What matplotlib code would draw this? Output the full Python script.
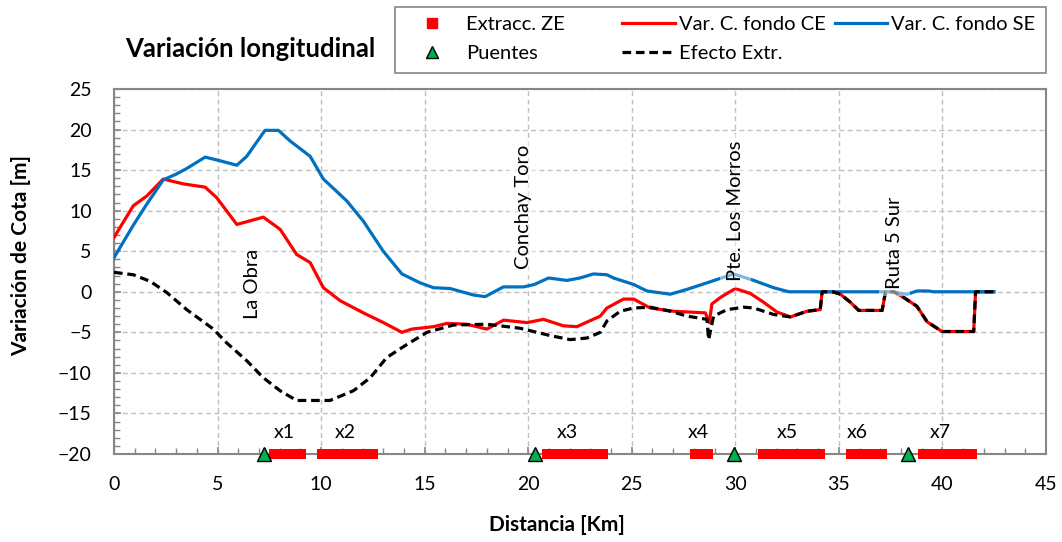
import matplotlib
matplotlib.use("Agg")
import matplotlib.pyplot as plt
from matplotlib.lines import Line2D
from matplotlib.patches import Rectangle
from matplotlib.ticker import MultipleLocator

plt.rcParams['font.family'] = ['Lato', 'DejaVu Sans']

# ---------------- data ----------------
se_x = [0, 0.93, 1.58, 2.38, 3.0, 3.51, 4.40, 5.05, 5.93, 6.41, 7.29, 7.94, 8.5, 9.47,
        10.11, 11.24, 12.04, 13.0, 13.9, 14.78, 15.43, 16.23, 17.36, 17.92, 18.8, 19.77,
        20.3, 20.98, 21.87, 22.5, 23.15, 23.8, 24.12, 25.09, 25.73, 26.86, 27.67, 28.63,
        29.92, 30.89, 31.85, 32.58, 37.6, 38.0, 38.3, 38.77, 39.3, 39.6, 42.48]
se_y = [4.2, 8.2, 10.8, 13.8, 14.5, 15.2, 16.6, 16.2, 15.6, 16.7, 19.9, 19.9, 18.6, 16.7,
        13.9, 11.2, 8.7, 5.0, 2.2, 1.1, 0.5, 0.4, -0.4, -0.6, 0.6, 0.6,
        0.9, 1.7, 1.4, 1.7, 2.2, 2.1, 1.7, 0.9, 0.1, -0.3, 0.3, 1.1,
        2.2, 1.4, 0.5, 0.0, 0.0, -0.2, -0.3, 0.1, 0.1, 0.0, 0.0]

ce_x = [0, 0.93, 1.58, 2.38, 3.35, 4.40, 4.96, 5.93, 7.21, 8.02, 8.82, 9.47, 10.11, 10.92,
        12.04, 13.01, 13.9, 14.38, 15.43, 16.07, 17.04, 18.0, 18.81, 19.94, 20.74, 21.7,
        22.35, 23.48, 23.8, 24.6, 25.09, 25.89, 27.02, 28.55, 28.74, 28.87, 29.28, 30.0,
        30.72, 31.37, 32.01, 32.66, 33.46, 34.1, 34.19, 34.7, 35.07, 35.56, 35.96, 37.09,
        37.25, 37.65, 38.13, 38.77, 39.26, 39.98, 41.51, 41.6, 42.48]
ce_y = [6.7, 10.6, 11.8, 13.9, 13.3, 12.9, 11.6, 8.3, 9.2, 7.7, 4.6, 3.6, 0.5, -1.1,
        -2.6, -3.8, -5.0, -4.6, -4.3, -3.9, -4.0, -4.6, -3.5, -3.8, -3.4, -4.2,
        -4.3, -3.0, -2.0, -0.9, -0.9, -2.0, -2.4, -2.6, -3.8, -1.5, -0.7, 0.4,
        -0.2, -1.3, -2.5, -3.1, -2.4, -2.2, 0.0, 0.0, -0.3, -1.3, -2.3, -2.3,
        0.0, 0.0, -0.7, -1.8, -3.7, -4.9, -4.9, 0.0, 0.0]

ef_x = [0, 0.93, 1.74, 2.55, 3.51, 4.8, 5.44, 6.41, 7.21, 8.02, 8.82, 10.43, 11.56, 12.37,
        13.17, 14.14, 15.11, 16.39, 18.0, 19.61, 21.06, 22.03, 22.84, 23.48, 23.8, 24.44,
        25.09, 25.89, 26.86, 27.67, 28.63, 28.71, 28.95, 29.6, 30.4, 30.89, 31.85, 32.66,
        33.46, 34.1, 34.19, 34.7, 35.07, 35.56, 35.96, 37.09, 37.25, 37.65, 38.13, 38.77,
        39.26, 39.98, 41.51, 41.6, 42.48]
ef_y = [2.4, 2.1, 1.3, -0.1, -2.2, -4.6, -6.3, -8.5, -10.6, -12.2, -13.4, -13.4, -12.2, -10.6,
        -8.1, -6.5, -5.0, -4.1, -4.0, -4.5, -5.4, -5.9, -5.7, -5.0, -3.6, -2.4,
        -2.0, -1.9, -2.4, -3.0, -3.4, -5.9, -3.0, -2.2, -1.9, -2.0, -2.8, -3.1,
        -2.4, -2.2, 0.0, 0.0, -0.3, -1.3, -2.3, -2.3, 0.0, 0.0, -0.7, -1.8,
        -3.7, -4.9, -4.9, 0.0, 0.0]

zone_names = ['x1', 'x2', 'x3', 'x4', 'x5', 'x6', 'x7']
zone_start = [7.5, 9.79, 20.67, 27.83, 31.1, 35.35, 38.8]
zone_end = [9.27, 12.77, 23.83, 28.92, 34.32, 37.34, 41.67]
zone_label_x = [8.24, 11.17, 21.9, 28.2, 32.5, 35.9, 39.9]
zone_y = -20
zone_label_y = -17.4

bridge_x = [7.25, 20.34, 29.95, 38.36]
bridge_y = [-20, -20, -20, -20]

place_names = ['La Obra', 'Conchay Toro', 'Pte. Los Morros', 'Ruta 5 Sur']
place_x = [6.7, 19.76, 30.0, 37.7]
place_y = [-3.4, 2.8, 1.3, 0.4]

x_ticks = [0, 5, 10, 15, 20, 25, 30, 35, 40, 45]
y_ticks = [-20, -15, -10, -5, 0, 5, 10, 15, 20, 25]

# ---------------- figure ----------------
W, H = 1062, 542
fig = plt.figure(figsize=(W / 100, H / 100), dpi=100)
ax = fig.add_axes([114 / W, 1 - 454 / H, (1046 - 114) / W, (454 - 89) / H])

RED = '#FF0000'
BLUE = '#0070C0'
GREEN = '#00B050'
GRAY = '#868686'

ax.plot(ce_x, ce_y, color=RED, lw=2.3, zorder=3)
ax.plot(se_x, se_y, color=BLUE, lw=2.3, zorder=3)
ax.plot(ef_x, ef_y, color='black', lw=2.3, dashes=(2.7, 1.5), zorder=4)

for s, e in zip(zone_start, zone_end):
    ax.plot([s, e], [zone_y, zone_y], color=RED, lw=7.2, solid_capstyle='butt',
            clip_on=False, zorder=5)
for name, lx in zip(zone_names, zone_label_x):
    ax.text(lx, zone_label_y, name, ha='center', va='center', fontsize=14, zorder=6)

ax.plot(bridge_x, bridge_y, ls='none', marker='^', ms=10, mfc=GREEN, mec='black',
        mew=1.0, clip_on=False, zorder=7)

for name, px, py in zip(place_names, place_x, place_y):
    ax.text(px, py, name, rotation=90, ha='center', va='bottom', fontsize=14.5,
            zorder=5,
            bbox=dict(boxstyle='square,pad=0.35', fc='white', ec='none', alpha=0.5))

ax.set_xlim(0, 45)
ax.set_ylim(-20, 25)
ax.set_xticks(x_ticks)
ax.set_yticks(y_ticks)
ax.xaxis.set_minor_locator(MultipleLocator(1))
ax.yaxis.set_minor_locator(MultipleLocator(1))
ax.tick_params(which='both', direction='in', colors=GRAY, labelcolor='black',
               labelsize=14)
ax.tick_params(which='major', length=5, width=1.2, pad=16)
ax.tick_params(which='minor', length=4, width=1.0)
ax.grid(True, which='major', color='#BFBFBF', ls=(0, (3.5, 2.5)), lw=1.0)
ax.set_axisbelow(True)
for sp in ax.spines.values():
    sp.set_color(GRAY)
    sp.set_linewidth(1.5)

fig.text(21 / W, 1 - 255 / H, 'Variación de Cota [m]', rotation=90, ha='center',
         va='center', fontsize=15, fontweight='bold')
fig.text(557 / W, 1 - 525 / H, 'Distancia [Km]', ha='center', va='center',
         fontsize=15, fontweight='bold')
fig.text(250 / W, 1 - 49 / H, 'Variación longitudinal', ha='center', va='center',
         fontsize=18.5, fontweight='bold')

# legend frame
fig.patches.append(Rectangle((395 / W, 1 - 73 / H), (1046 - 395) / W, (73 - 7) / H,
                             transform=fig.transFigure, fill=False, ec=GRAY, lw=1.2))

h_ext = Line2D([], [], ls='none', marker='s', ms=7, mfc=RED, mec=RED)
h_br = Line2D([], [], ls='none', marker='^', ms=9, mfc=GREEN, mec='black', mew=1.0)
h_ce = Line2D([], [], color=RED, lw=2.3)
h_ef = Line2D([], [], color='black', lw=2.3, dashes=(2.7, 1.5))
h_se = Line2D([], [], color=BLUE, lw=2.3)

LFS = 14.5
leg1 = fig.legend([h_ext, h_br], ['Extracc. ZE', 'Puentes'], loc='upper left',
                  bbox_to_anchor=(407 / W, 1 - 7 / H), frameon=False, fontsize=LFS,
                  handlelength=1.6, handletextpad=0.9, labelspacing=0.62,
                  borderpad=0.42, borderaxespad=0)
leg2 = fig.legend([h_ce, h_ef, h_se], ['Var. C. fondo CE', 'Efecto Extr.', 'Var. C. fondo SE'],
                  ncol=2, loc='upper left', bbox_to_anchor=(614 / W, 1 - 7 / H),
                  frameon=False, fontsize=LFS, handlelength=2.6, handletextpad=0.2,
                  labelspacing=0.62, columnspacing=0.45, borderpad=0.42, borderaxespad=0)

fig.savefig('out.png', dpi=100)
